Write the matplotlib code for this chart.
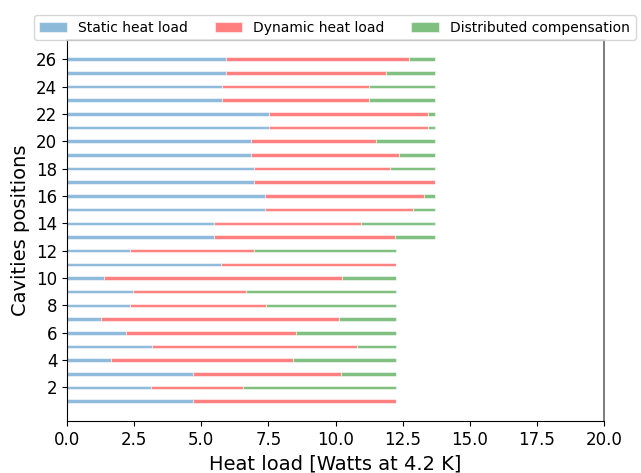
import matplotlib
matplotlib.use("Agg")
import matplotlib.pyplot as plt
import numpy as np

positions = list(range(1, 27))
static = [4.68, 3.14, 4.70, 1.64, 3.17, 2.18, 1.25, 2.34, 2.46, 1.38, 5.73, 2.34,
          5.46, 5.46, 7.38, 7.38, 6.96, 6.96, 6.86, 6.86, 7.53, 7.53, 5.77, 5.77, 5.93, 5.93]
static_plus_dynamic = [12.26, 6.54, 10.21, 8.41, 10.80, 8.52, 10.14, 7.42, 6.67, 10.26, 12.26, 6.98,
                       12.21, 10.95, 12.87, 13.31, 13.72, 12.04, 12.36, 11.51, 13.45, 13.45, 11.26, 11.26, 11.88, 12.72]
totals = [12.26] * 12 + [13.72] * 14

dynamic = [sd - s for sd, s in zip(static_plus_dynamic, static)]
distributed = [t - sd for t, sd in zip(totals, static_plus_dynamic)]

fig = plt.figure(figsize=(6.41, 4.73), dpi=100)
ax = fig.add_axes([67/641, 1 - 421/473, (604 - 67)/641, (421 - 40)/473])

h = 0.26
kw = dict(height=h, alpha=0.5, edgecolor='white', linewidth=0.8)
ax.barh(positions, static, color='C0', label='Static heat load', **kw)
ax.barh(positions, dynamic, left=static, color='red', label='Dynamic heat load', **kw)
ax.barh(positions, distributed, left=static_plus_dynamic, color='green',
        label='Distributed compensation', **kw)

ax.set_xlim(0, 20)
ax.set_ylim(-0.45, 27.4)
ax.set_yticks(range(2, 27, 2))
ax.set_xticks(np.arange(0, 20.1, 2.5))
ax.tick_params(labelsize=12)
ax.set_xlabel('Heat load [Watts at 4.2 K]', fontsize=14)
ax.set_ylabel('Cavities positions', fontsize=14)
for s in ['top', 'right']:
    ax.spines[s].set_color('#666666')
    ax.spines[s].set_linewidth(1.2)

fig.legend(loc='upper center', bbox_to_anchor=(334.7/641, 1 - 8/473), ncol=3, fontsize=10,
           handlelength=2, columnspacing=1.9, frameon=True)

fig.savefig('out.png', dpi=100)
